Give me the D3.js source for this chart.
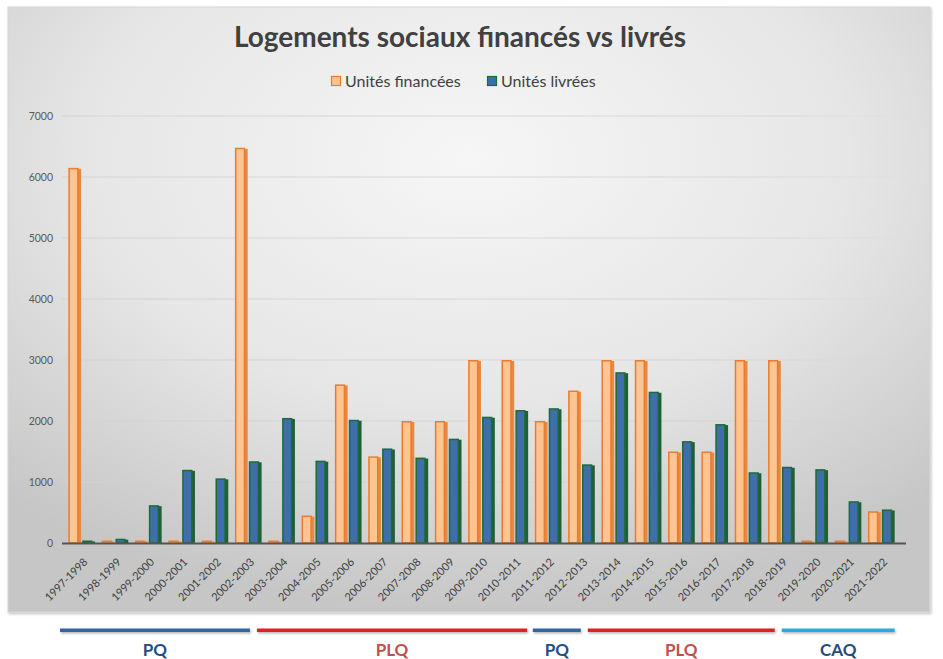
<!DOCTYPE html>
<html><head><meta charset="utf-8">
<script src="https://cdn.jsdelivr.net/npm/d3@7"></script>
<style>body{margin:0;background:#fff}svg{display:block}</style>
</head><body><svg id="c" width="943" height="659"></svg>
<script>
const categories = ["1997-1998","1998-1999","1999-2000","2000-2001","2001-2002","2002-2003","2003-2004","2004-2005","2005-2006","2006-2007","2007-2008","2008-2009","2009-2010","2010-2011","2011-2012","2012-2013","2013-2014","2014-2015","2015-2016","2016-2017","2017-2018","2018-2019","2019-2020","2020-2021","2021-2022"];
const unitesFinancees = [6150,0,0,0,0,6480,0,450,2600,1420,2000,2000,3000,3000,2000,2500,3000,3000,1500,1500,3000,3000,0,0,520];
const unitesLivrees = [25,70,620,1200,1060,1340,2050,1350,2020,1550,1400,1710,2070,2180,2210,1290,2800,2480,1670,1950,1160,1250,1210,685,550];
const yTicks = [0,1000,2000,3000,4000,5000,6000,7000];
const seriesNames = ["Unités financées","Unités livrées"];
// government periods, expressed in category index units
const periodParties = ["PQ","PLQ","PQ","PLQ","CAQ"];
const periodStart = [-0.25,5.66,13.94,15.59,21.41];
const periodEnd = [5.45,13.77,15.38,21.2,24.8];

const svg = d3.select("#c");
const font = "Lato, 'Open Sans', sans-serif";
const defs = svg.append("defs");
const rg = defs.append("radialGradient").attr("id","bg").attr("cx","50%").attr("cy","25%").attr("r","75%");
rg.append("stop").attr("offset","0%").attr("stop-color","#f6f6f6");
rg.append("stop").attr("offset","55%").attr("stop-color","#e6e6e6");
rg.append("stop").attr("offset","100%").attr("stop-color","#c6c6c6");
const gg = defs.append("linearGradient").attr("id","grid").attr("gradientUnits","userSpaceOnUse")
  .attr("x1",62).attr("x2",906).attr("y1",0).attr("y2",0);
gg.append("stop").attr("offset","0%").attr("stop-color","#d2d2d2").attr("stop-opacity",0.9);
gg.append("stop").attr("offset","80%").attr("stop-color","#d2d2d2").attr("stop-opacity",0.8);
gg.append("stop").attr("offset","100%").attr("stop-color","#d2d2d2").attr("stop-opacity",0.1);
const sh = defs.append("filter").attr("id","sh").attr("x","-5%").attr("y","-5%").attr("width","110%").attr("height","110%");
sh.append("feDropShadow").attr("dx",1).attr("dy",1.5).attr("stdDeviation",1.2).attr("flood-color","#000").attr("flood-opacity",0.25);
const sh2 = defs.append("filter").attr("id","sh2").attr("x","-5%").attr("y","-100%").attr("width","110%").attr("height","400%");
sh2.append("feDropShadow").attr("dx",1).attr("dy",1.5).attr("stdDeviation",1).attr("flood-color","#000").attr("flood-opacity",0.3);

svg.append("rect").attr("x",8).attr("y",7).attr("width",922).attr("height",605)
  .attr("fill","url(#bg)").attr("stroke","#d6d6d6").attr("filter","url(#sh)");

const x0 = d3.scaleBand().domain(categories).range([65,898]).paddingInner(0.2).paddingOuter(0.1);
const x1 = d3.scaleBand().domain(seriesNames).range([0,x0.bandwidth()]).paddingInner(0.08);
const y = d3.scaleLinear().domain([0,7000]).range([543,116]);

// gridlines
svg.append("g").selectAll("line").data(yTicks.filter(d=>d>0)).join("line")
  .attr("x1",62).attr("x2",906).attr("y1",d=>y(d)).attr("y2",d=>y(d))
  .attr("stroke","url(#grid)").attr("stroke-width",1.2);

// y labels
const yAxis = d3.axisLeft(y).tickValues(yTicks).tickFormat(d3.format("d")).tickSize(0).tickPadding(0);
const ya = svg.append("g").attr("transform","translate(53,0)").call(yAxis);
ya.select(".domain").remove();
ya.selectAll("text").attr("font-family",font).attr("font-size",10.5).attr("fill","#595959");

// bars
const colors = {
  "Unités financées": {fill:"#fdc591", stroke:"#ec7b2d", side:"#e58a44"},
  "Unités livrées": {fill:"#3f6eab", stroke:"#1d6b38", side:"#1f5f36"}
};
const rows = categories.map((c,i)=>({cat:c, vals:[
  {s:seriesNames[0], v:unitesFinancees[i]},
  {s:seriesNames[1], v:unitesLivrees[i]}]}));
const bw = x1.bandwidth();
const g = svg.append("g").selectAll("g").data(rows).join("g")
  .attr("transform",d=>`translate(${x0(d.cat)},0)`);
const bar = g.selectAll("g").data(d=>d.vals).join("g")
  .attr("transform",d=>`translate(${x1(d.s)},0)`);
const barTop = d=> Math.min(y(d.v), y(0)-2.5);
bar.append("rect").attr("class","side")
  .attr("x",bw-3.5).attr("width",3.5)
  .attr("y",d=>barTop(d)+1).attr("height",d=>y(0)-barTop(d)-1)
  .attr("fill",d=>colors[d.s].side);
bar.append("rect").attr("class","front")
  .attr("x",0.75).attr("width",bw-4)
  .attr("y",d=>barTop(d)+0.75).attr("height",d=>Math.max(y(0)-barTop(d)-0.75,1))
  .attr("fill",d=>colors[d.s].fill).attr("stroke",d=>colors[d.s].stroke).attr("stroke-width",1.5);

// baseline
svg.append("line").attr("x1",62).attr("x2",906).attr("y1",y(0)+0.5).attr("y2",y(0)+0.5)
  .attr("stroke","#555").attr("stroke-width",2.2);

// x labels
const xAxis = d3.axisBottom(x0).tickSize(0).tickPadding(0);
const xa = svg.append("g").attr("transform",`translate(0,${y(0)+17})`).call(xAxis);
xa.select(".domain").remove();
xa.selectAll("text").attr("font-family",font).attr("font-size",11).attr("fill","#404040")
  .attr("text-anchor","end").attr("dy","0.35em").attr("transform","translate(4,0) rotate(-45)");

// title
svg.append("text").attr("x",460).attr("y",47).attr("text-anchor","middle")
  .attr("font-family",font).attr("font-weight","bold").attr("font-size",28).attr("fill","#404040")
  .text("Logements sociaux financés vs livrés");

// legend
const legX = [331,487];
seriesNames.forEach((s,i)=>{
  svg.append("rect").attr("x",legX[i]+0.5).attr("y",76.5).attr("width",9).attr("height",9)
    .attr("fill",colors[s].fill).attr("stroke",colors[s].stroke).attr("stroke-width",1.2);
  svg.append("text").attr("x",legX[i]+14).attr("y",86.5).attr("font-family",font).attr("font-size",16)
    .attr("fill","#404040").text(s);
});

// party periods
const partyLine = {PQ:"#3565a0", PLQ:"#e61e25", CAQ:"#29a9e1"};
const partyText = {PQ:"#1f4e86", PLQ:"#c0504d", CAQ:"#1f4e79"};
const xi = i => x0.range()[0] + x0.step()*(x0.paddingOuter() + i);
const pg = svg.append("g");
periodParties.forEach((p,i)=>{
  const a = xi(periodStart[i]), b = xi(periodEnd[i]);
  pg.append("rect").attr("x",a).attr("width",b-a).attr("y",628.5).attr("height",3.5)
    .attr("fill",partyLine[p]).attr("filter","url(#sh2)");
  pg.append("text").attr("x",(a+b)/2).attr("y",656).attr("text-anchor","middle")
    .attr("font-family",font).attr("font-weight","bold").attr("font-size",17).attr("fill",partyText[p]).text(p);
});
</script></body></html>
